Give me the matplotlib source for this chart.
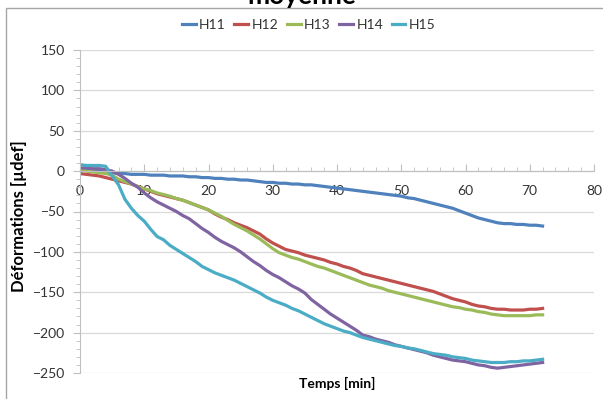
import matplotlib
matplotlib.use("Agg")
import matplotlib.pyplot as plt
from matplotlib.patches import Rectangle
from matplotlib.ticker import MultipleLocator

plt.rcParams["font.family"] = ["Lato", "DejaVu Sans"]

# time axis, one reading per minute
temps = list(range(0, 73))

h11 = [1, 1, 0, 0, -1, -2,
       -3, -3, -4, -4, -4,
       -5, -5, -5, -6, -6, -6, -7, -7, -8, -8,
       -9, -9, -10, -10, -11, -11, -12, -13, -14, -14,
       -15, -15, -16, -16, -17, -17, -18, -19, -20, -21,
       -22, -23, -24, -25, -26, -27, -28, -29, -30, -31,
       -33, -34, -36, -38, -40, -42, -44, -46, -49, -52,
       -55, -58, -60, -62, -64, -65, -65, -66, -66, -67, -67, -68]

h12 = [-3, -4, -5, -6, -8, -10, -12, -14, -16, -19, -22,
       -25, -28, -30, -32, -34, -36, -39, -42, -45, -48,
       -53, -57, -60, -64, -67, -70, -74, -78, -84, -89,
       -93, -97, -99, -101, -104, -106, -108, -110, -113, -115,
       -118, -120, -123, -127, -129, -131, -133, -135, -137, -139,
       -141, -143, -145, -147, -149, -152, -155, -158, -160, -162,
       -165, -167, -168, -170, -171, -171, -172, -172, -172, -171, -171, -170]

h13 = [1, 0, -1, -2, -3, -5, -10, -13, -16, -19, -22,
       -24, -27, -29, -31, -34, -36, -39, -42, -45, -48,
       -52, -56, -61, -66, -70, -74, -79, -84, -90, -96,
       -101, -104, -107, -109, -112, -115, -118, -120, -123, -126,
       -129, -132, -135, -138, -141, -143, -145, -148, -150, -152,
       -154, -156, -158, -160, -162, -164, -166, -168, -169, -171,
       -172, -174, -175, -177, -178, -179, -179, -179, -179, -179, -178, -178]

h14 = [4, 4, 3, 3, 2, 0, -4, -9, -15, -20, -27,
       -33, -38, -42, -46, -50, -55, -59, -65, -71, -76,
       -82, -87, -91, -95, -100, -106, -112, -117, -123, -128,
       -132, -137, -142, -146, -151, -159, -165, -171, -177, -182,
       -187, -192, -197, -203, -205, -208, -210, -212, -215, -217,
       -219, -221, -223, -225, -228, -230, -232, -234, -235, -236,
       -238, -240, -241, -243, -244, -243, -242, -241, -240, -239, -238, -237]

h15 = [8, 7, 7, 7, 6, -6, -17, -35, -46, -55, -62,
       -72, -81, -85, -92, -97, -102, -107, -112, -118, -122,
       -126, -129, -132, -135, -139, -143, -147, -151, -156, -160,
       -163, -166, -170, -173, -177, -181, -185, -189, -192, -195,
       -198, -200, -203, -206, -208, -210, -212, -214, -216, -217,
       -219, -220, -222, -224, -226, -227, -228, -230, -231, -232,
       -234, -235, -236, -237, -237, -237, -236, -236, -235, -235, -234, -233]

series = ["H11", "H12", "H13", "H14", "H15"]
values = [h11, h12, h13, h14, h15]
colors = ["#4F81BD", "#C0504D", "#9BBB59", "#8064A2", "#4BACC6"]

fig = plt.figure(figsize=(6.03, 3.99), dpi=100)
ax = fig.add_axes([80 / 603, 1 - 373 / 399, 514 / 603, 323 / 399])

for name, v, c in zip(series, values, colors):
    ax.plot(temps, v, color=c, lw=2.3, label=name)

ax.set_xlim(0, 80)
ax.set_ylim(-250, 150)
ax.xaxis.set_major_locator(MultipleLocator(10))
ax.xaxis.set_minor_locator(MultipleLocator(2))
ax.yaxis.set_major_locator(MultipleLocator(50))
ax.yaxis.set_minor_locator(MultipleLocator(10))

ax.grid(True, axis="y", color="#D9D9D9", lw=0.9)
ax.set_axisbelow(True)

for s in ["top", "right"]:
    ax.spines[s].set_visible(False)
ax.spines["bottom"].set_position(("data", 0))
ax.spines["bottom"].set_color("#BFBFBF")
ax.spines["left"].set_color("#BFBFBF")

ax.tick_params(axis="x", which="both", direction="in", color="#BFBFBF",
               labelsize=10, pad=10, labelcolor="#333333")
ax.tick_params(axis="x", which="major", length=5)
ax.tick_params(axis="x", which="minor", length=3)
ax.tick_params(axis="y", which="both", direction="out", color="#BFBFBF",
               labelsize=10, pad=6, labelcolor="#333333")
ax.tick_params(axis="y", which="major", length=5)
ax.tick_params(axis="y", which="minor", length=3)

ax.set_ylabel("Déformations [µdef]", fontsize=12, fontweight="bold")
ax.yaxis.set_label_coords(-0.104, 0.486)
ax.set_xlabel("Temps [min]", fontsize=10, fontweight="bold")
ax.xaxis.set_label_coords(0.5, -0.012)

fig.legend(loc="center", bbox_to_anchor=(0.512, 1 - 25 / 399), ncol=5,
           frameon=False, fontsize=10, handlelength=1.0, handletextpad=0.25,
           columnspacing=0.6, labelcolor="#333333")

# title is cut by the top edge in the source image
fig.text(0.5, 1 - 4 / 399, "moyenne", ha="center", va="baseline",
         fontsize=19, fontweight="bold")

fig.add_artist(Rectangle((6 / 603, -0.02), 1.0, 1 - 8 / 399 + 0.02,
                         transform=fig.transFigure, fill=False,
                         edgecolor="#A6A6A6", lw=1.0))

fig.savefig("out.png", dpi=100)
